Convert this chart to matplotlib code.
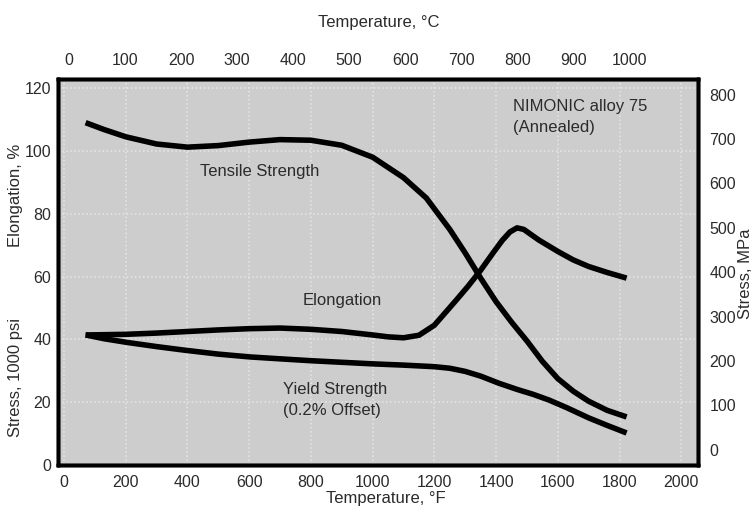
#!/usr/bin/env python
#plotting NIMONIC alloy 75 properties vs temperature
import matplotlib
matplotlib.use("Agg")
import matplotlib.pyplot as plt

#curve readings (temperature in F, value in 1000 psi or %)
tensile_t = [70, 130, 200, 300, 400, 500, 600, 700, 800, 900, 1000, 1100, 1174, 1250,
             1300, 1350, 1400, 1450, 1500, 1550, 1600, 1650, 1700, 1760, 1823]
tensile_v = [109, 106.8, 104.5, 102.2, 101.2, 101.7, 102.8, 103.6, 103.4, 101.8, 98, 91.5, 85, 75,
             67.5, 59.5, 52, 45.5, 39.5, 33, 27.5, 23.5, 20.3, 17.4, 15.3]

elong_t = [70, 200, 300, 400, 500, 600, 700, 800, 900, 1000, 1050, 1100, 1150, 1200, 1240,
           1271, 1310, 1350, 1390, 1420, 1445, 1468, 1490, 1510, 1539, 1600, 1650, 1700, 1760, 1823]
elong_v = [41.4, 41.6, 42, 42.5, 43, 43.4, 43.6, 43.2, 42.5, 41.4, 40.8, 40.5, 41.3, 44.5, 49,
           52.5, 57, 62, 67.5, 71.5, 74.2, 75.5, 75, 73.6, 71.6, 68, 65.3, 63.2, 61.3, 59.5]

yield_t = [70, 130, 206, 300, 387, 500, 603, 700, 800, 900, 1000, 1100, 1200, 1250, 1300,
           1350, 1410, 1470, 1520, 1571, 1630, 1700, 1760, 1823]
yield_v = [41.4, 40.2, 39, 37.7, 36.6, 35.3, 34.4, 33.8, 33.2, 32.7, 32.2, 31.8, 31.3, 30.8, 29.8,
           28.3, 26, 24, 22.5, 20.7, 18.2, 15, 12.6, 10.2]

#tick labels
f_ticks = list(range(0, 2001, 200))
c_ticks = list(range(0, 1001, 100))
psi_ticks = list(range(0, 121, 20))
mpa_ticks = list(range(0, 801, 100))

plt.rcParams['font.family'] = ['Liberation Sans', 'DejaVu Sans']
txt = "#2b2b2b"
tsize = 11.5
lsize = 12

fig = plt.figure(figsize=(7.55, 5.17), dpi=100)
ax = fig.add_axes([0.0768, 0.1006, 0.848, 0.7466])
ax.set_facecolor("#cdcdcd")

for xs, ys in ((tensile_t, tensile_v), (elong_t, elong_v), (yield_t, yield_v)):
    ax.plot(xs, ys, color="black", lw=4, solid_capstyle="butt",
            solid_joinstyle="round", zorder=3)

ax.set_xlim(-19.5, 2055)
ax.set_ylim(0, 122.9)
ax.set_xticks(f_ticks)
ax.set_yticks(psi_ticks)
ax.grid(True, color="#e6e6e6", linestyle=":", lw=1.1)
ax.tick_params(axis="x", length=0, pad=7, labelsize=tsize, labelcolor=txt)
ax.tick_params(axis="y", length=0, pad=5, labelsize=tsize, labelcolor=txt)
for s in ax.spines.values():
    s.set_linewidth(2.5)
    s.set_color("black")

#top Celsius axis
axc = ax.twiny()
axc.set_xlim(-19.6, 1123)
axc.set_xticks(c_ticks)
axc.tick_params(axis="x", length=0, pad=8, labelsize=tsize, labelcolor=txt)

#right MPa axis
axm = ax.twinx()
axm.set_ylim(-34, 835)
axm.set_yticks(mpa_ticks)
axm.tick_params(axis="y", length=0, pad=8, labelsize=tsize, labelcolor=txt)
for a in (axc, axm):
    for s in a.spines.values():
        s.set_linewidth(2.5)

#curve labels
ax.text(634, 93.3, "Tensile Strength", fontsize=lsize, color=txt, ha="center", va="center")
ax.text(903, 52.5, "Elongation", fontsize=lsize, color=txt, ha="center", va="center")
ax.text(710, 23.9, "Yield Strength", fontsize=lsize, color=txt, ha="left", va="center")
ax.text(710, 17.5, "(0.2% Offset)", fontsize=lsize, color=txt, ha="left", va="center")
ax.text(1455, 114, "NIMONIC alloy 75", fontsize=lsize, color=txt, ha="left", va="center")
ax.text(1455, 107.6, "(Annealed)", fontsize=lsize, color=txt, ha="left", va="center")

#axis titles
fig.text(0.502, 0.957, "Temperature, °C", fontsize=lsize, color=txt, ha="center", va="center")
fig.text(0.511, 0.035, "Temperature, °F", fontsize=lsize, color=txt, ha="center", va="center")
fig.text(0.02, 0.623, "Elongation, %", fontsize=lsize, color=txt, rotation=90, ha="center", va="center")
fig.text(0.02, 0.269, "Stress, 1000 psi", fontsize=lsize, color=txt, rotation=90, ha="center", va="center")
fig.text(0.988, 0.47, "Stress, MPa", fontsize=lsize, color=txt, rotation=90, ha="center", va="center")

fig.savefig("out.png", dpi=100, facecolor="white")
